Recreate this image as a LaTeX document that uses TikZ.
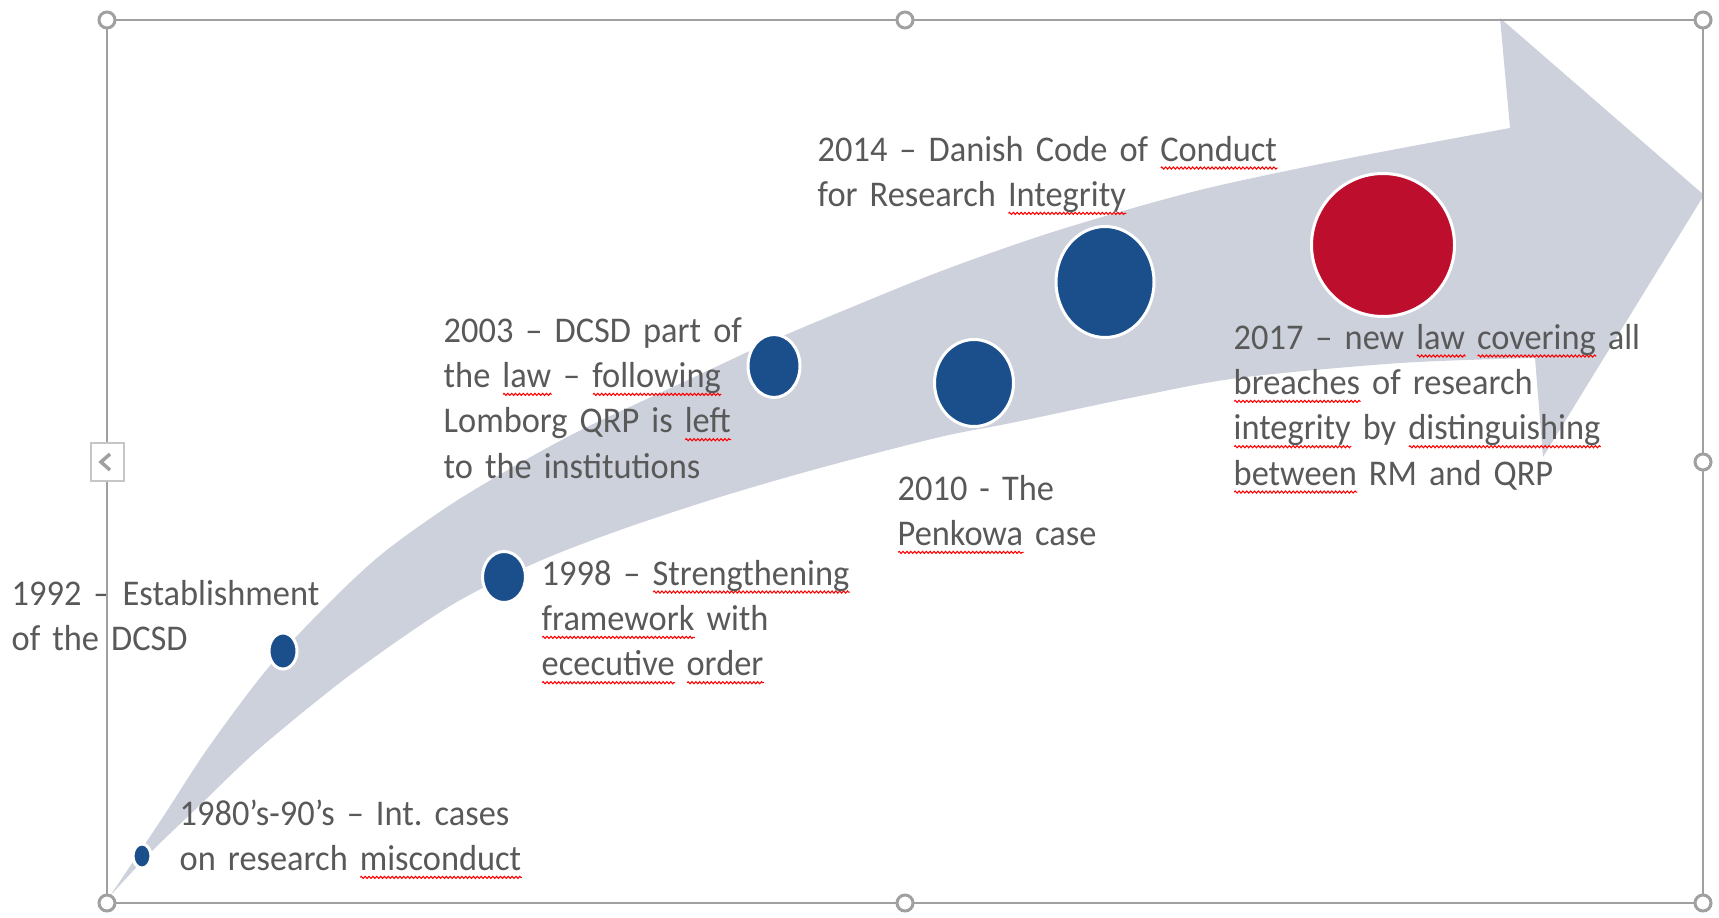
\documentclass[tikz,border=0pt]{standalone}
\usepackage{fontspec}
\setmainfont{Carlito}[FakeStretch=0.95]
\usetikzlibrary{shapes.geometric,decorations.pathmorphing}
\definecolor{bleu}{RGB}{27,79,140}
\definecolor{rouge}{RGB}{190,14,45}
\definecolor{fleche}{RGB}{205,209,220}
\definecolor{texte}{RGB}{89,89,89}
\definecolor{cadre}{RGB}{160,160,160}
\frenchspacing
\newlength{\motlong}
\newcommand{\faute}[1]{\leavevmode\settowidth{\motlong}{#1}\rlap{\tikz[baseline=0pt]\draw [red,line width=0.3pt,decorate,decoration={zigzag,segment length=1.1pt,amplitude=0.3pt}] (0pt,-2pt) -- (\motlong,-2pt);}#1}
\begin{document}
\begin{tikzpicture}[x=0.1mm,y=-0.1mm,
  point/.style={ellipse,fill=bleu,draw=white,line width=0.3mm,inner sep=0pt},
  date/.style={anchor=base west,align=left,text width=7cm,inner sep=0pt,text=texte,font=\fontsize{10.3}{12.9}\selectfont},
  poignee/.style={circle,fill=white,draw=cadre,line width=0.3mm,minimum size=1.6mm,inner sep=0pt}]
\useasboundingbox (0,0) rectangle (1719,917);
% la fleche
\fill [fleche] plot[smooth] coordinates {(110,896) (161,820) (208,748) (268,668) (330,602) (383,553) (450,505) (520,463) (585,428) (688,380) (767,343) (840,312) (944,270) (1059,230) (1200,190) (1350,158) (1510,128)}
  -- (1500,18) -- (1704,195) -- (1543,457)
  -- plot[smooth] coordinates {(1535,358) (1400,363) (1238,378) (1130,398) (1016,422) (940,437) (820,468) (720,497) (620,530) (535,563) (450,606) (350,675) (260,748) (200,805) (150,853) (110,896)} -- cycle;
% les points
\node [point,minimum width=1.8mm,minimum height=2.4mm] (p1980) at (142,856) {};
\node [point,minimum width=2.8mm,minimum height=3.6mm] (p1992) at (283,651) {};
\node [point,minimum width=4.3mm,minimum height=5.1mm] (p1998) at (504,577) {};
\node [point,minimum width=5.2mm,minimum height=6.3mm] (p2003) at (774,366) {};
\node [point,minimum width=7.9mm,minimum height=8.7mm] (p2010) at (974,383) {};
\node [point,minimum width=9.8mm,minimum height=11.1mm] (p2014) at (1105,282) {};
\node [point,fill=rouge,minimum width=14.3mm,minimum height=14.3mm] (p2017) at (1383,245) {};
% les textes
\node [date] (t1980) at (179,825) {1980’s-90’s -- Int. cases\\on research \faute{misconduct}};
\node [date] (t1992) at (11,605) {1992 -- Establishment\\of the DCSD};
\node [date] (t1998) at (541,585) {1998 -- \faute{Strengthening}\\\faute{framework} with\\\faute{ececutive} \faute{order}};
\node [date] (t2003) at (443,342) {2003 -- DCSD part of\\the \faute{law} -- \faute{following}\\Lomborg QRP is \faute{left}\\to the institutions};
\node [date] (t2010) at (897,500) {2010 - The\\\faute{Penkowa} case};
\node [date] (t2014) at (817,161) {2014 -- Danish Code of \faute{Conduct}\\for Research \faute{Integrity}};
\node [date] (t2017) at (1233,349) {2017 -- new \faute{law} \faute{covering} all\\\faute{breaches} of research\\\faute{integrity} by \faute{distinguishing}\\\faute{between} RM and QRP};
% le cadre de selection
\draw [cadre,line width=0.2mm] (107,20) rectangle (1703,903);
\foreach \x/\y [count=\i] in {107/20,905/20,1703/20,1703/462,1703/903,905/903,107/903}
  \node [poignee] (h\i) at (\x,\y) {};
\node [draw=cadre!60,fill=white,line width=0.2mm,minimum width=3.3mm,minimum height=3.8mm,inner sep=0pt] (onglet) at (107,462) {};
\draw [cadre,line width=0.35mm] ([shift={(3,-8)}]onglet.center) -- ([shift={(-6,0)}]onglet.center) -- ([shift={(3,8)}]onglet.center);
\end{tikzpicture}
\end{document}
